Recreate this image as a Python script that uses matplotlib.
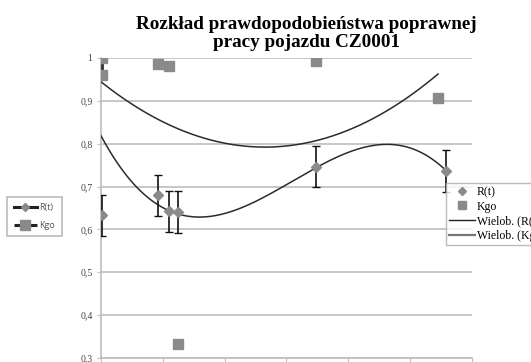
import numpy as np
import matplotlib
matplotlib.use("Agg")
import matplotlib.pyplot as plt
from matplotlib.lines import Line2D

# R(t) measurements with error bars
r_x = [0.02, 0.92, 1.10, 1.24, 3.47, 5.58]
r_val = [0.633, 0.680, 0.642, 0.641, 0.746, 0.737]
r_err = [0.048, 0.048, 0.048, 0.049, 0.048, 0.049]

# Kgo measurements
kgo_x = [0.02, 0.02, 0.92, 1.10, 1.24, 3.47, 5.45]
kgo_val = [1.0, 0.96, 0.985, 0.982, 0.333, 0.992, 0.907]

# points
r_trend_x = [0.0, 0.8, 1.6, 2.93, 3.47, 4.5, 5.58]
r_trend_y = [0.82, 0.665, 0.635, 0.693, 0.746, 0.798, 0.737]
kgo_trend_x = [0.0, 1.27, 2.58, 3.47, 4.9, 5.45]
kgo_trend_y = [0.937, 0.85, 0.787, 0.80, 0.90, 0.967]

y_ticks = [0.3, 0.4, 0.5, 0.6, 0.7, 0.8, 0.9, 1.0]
y_labels = ["0,3", "0,4", "0,5", "0,6", "0,7", "0,8", "0,9", "1"]

fig = plt.figure(figsize=(5.31, 3.62), dpi=100)
ax = fig.add_axes([0.190, 0.011, 0.699, 0.829])

grid_col = "#bdbdbd"
mark_col = "#8a8a8a"

# trend lines (polynomial through the read points)
xs = np.linspace(r_trend_x[0], r_trend_x[-1], 200)
r_poly = np.polyfit(r_trend_x, r_trend_y, 3)
ax.plot(xs, np.polyval(r_poly, xs), color="#2b2b2b", lw=1.1, zorder=3)
xs2 = np.linspace(kgo_trend_x[0], kgo_trend_x[-1], 200)
k_poly = np.polyfit(kgo_trend_x, kgo_trend_y, 2)
ax.plot(xs2, np.polyval(k_poly, xs2), color="#2b2b2b", lw=1.1, zorder=3)

# R(t) points with error bars
ax.errorbar(r_x, r_val, yerr=r_err, fmt="D", color=mark_col, ms=5,
            ecolor="#111111", elinewidth=1.2, capsize=3, capthick=1, zorder=4)

# Kgo points, first two joined by a dark bar
ax.vlines(kgo_x[0], kgo_val[1], kgo_val[0], color="#333333", lw=2, zorder=3)
ax.plot(kgo_x, kgo_val, "s", color=mark_col, ms=7, ls="none", zorder=5)

ax.set_xlim(0, 6)
ax.set_ylim(0.3, 1.0)
ax.set_yticks(y_ticks)
ax.set_yticklabels(y_labels, fontsize=7, family="Liberation Serif", color="#444444")
ax.set_xticks(range(0, 7))
ax.set_xticklabels([])
ax.tick_params(axis="y", length=3, color=grid_col, pad=3)
ax.tick_params(axis="x", length=3, color=grid_col)
ax.yaxis.grid(True, color=grid_col, lw=1.2)
ax.set_axisbelow(True)
for s in ["top", "right"]:
    ax.spines[s].set_visible(False)
ax.spines["left"].set_color(grid_col)
ax.spines["bottom"].set_color(grid_col)
ax.spines["left"].set_linewidth(1.2)
ax.spines["bottom"].set_linewidth(1.2)

# title
fig.text(0.577, 0.907, "Rozkład prawdopodobieństwa poprawnej\npracy pojazdu CZ0001",
         ha="center", va="center", fontsize=13.8, fontweight="bold",
         family="Liberation Serif", linespacing=1.08)

# legend on the left
left_handles = [
    Line2D([], [], color="#222222", lw=2.2, marker="D", mfc=mark_col, mec=mark_col, ms=4),
    Line2D([], [], color="#222222", lw=2.2, ls=(0, (3, 1.5)), marker="s", mfc=mark_col, mec=mark_col, ms=7),
]
leg1 = fig.legend(left_handles, ["R(t)", "Kgo"], loc="upper left",
                  bbox_to_anchor=(0.014, 1 - 197 / 362), prop={"family": "Open Sans", "size": 6.5},
                  frameon=True, fancybox=False, edgecolor="#aaaaaa", handlelength=2.6,
                  handletextpad=0.25, borderpad=0.7, labelspacing=0.95, labelcolor="#555555",
                  borderaxespad=0)
leg1.get_frame().set_linewidth(1.2)

# legend on the right (runs past the figure edge, as in the source)
right_handles = [
    Line2D([], [], color=mark_col, ls="none", marker="D", ms=4),
    Line2D([], [], color=mark_col, ls="none", marker="s", ms=6),
    Line2D([], [], color="#222222", lw=1),
    Line2D([], [], color="#777777", lw=1.6),
]
leg2 = fig.legend(right_handles, ["R(t)", "Kgo", "Wielob. (R(t))", "Wielob. (Kgo)"],
                  loc="upper left", bbox_to_anchor=(446 / 531, 1 - 183 / 362),
                  prop={"family": "Liberation Serif", "size": 8.5},
                  frameon=True, fancybox=False, edgecolor="#aaaaaa", handlelength=2.2,
                  handletextpad=0.15, borderpad=0.25, labelspacing=0.22, borderaxespad=0)
leg2.get_frame().set_facecolor("white")

fig.savefig("out.png", dpi=100)
